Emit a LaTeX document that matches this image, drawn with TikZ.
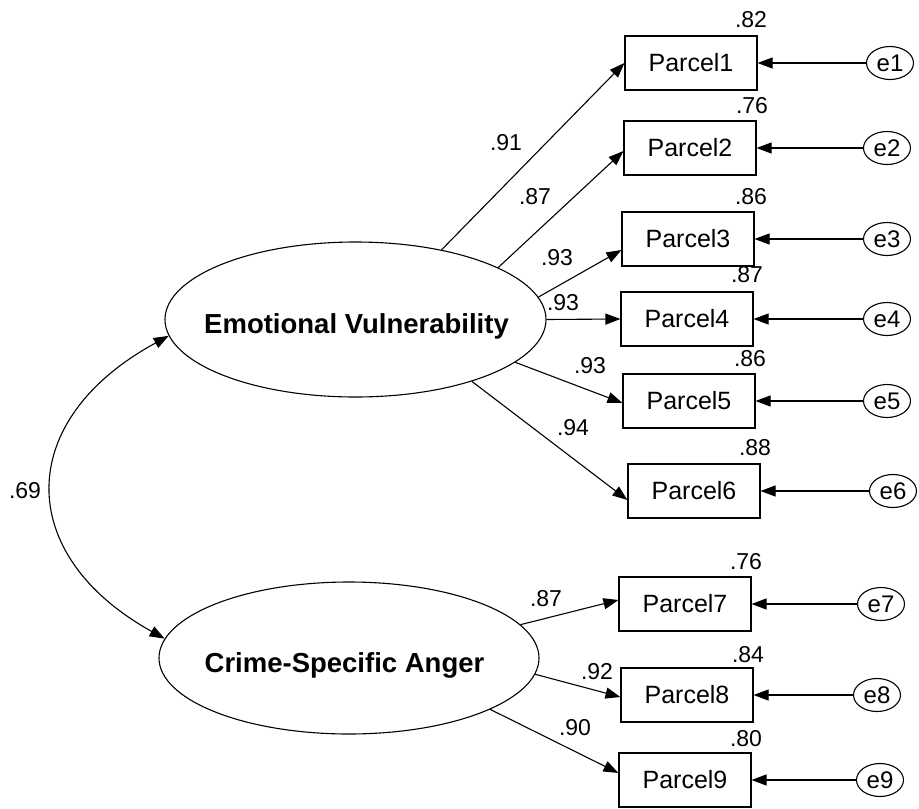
\documentclass[tikz,border=0pt]{standalone}
\usepackage{fontspec}
\setmainfont{Liberation Sans}
\usetikzlibrary{shapes.geometric,arrows.meta,calc}
\begin{document}
\begin{tikzpicture}[x=1pt,y=-1pt,line width=1.1pt,
  latent/.style={draw, ellipse, minimum width=381pt, minimum height=155pt, inner sep=0pt},
  lattext/.style={font=\fontsize{27.5}{33}\selectfont\bfseries, anchor=base, inner sep=0pt},
  obs/.style={draw, rectangle, minimum width=132pt, minimum height=54pt, inner sep=0pt, font=\fontsize{25}{30}\selectfont},
  err/.style={draw, ellipse, minimum width=47pt, minimum height=33pt, inner sep=0pt, font=\fontsize{24}{28}\selectfont},
  num/.style={font=\fontsize{23}{28}\selectfont, inner sep=0pt},
  tip/.style={Triangle[length=15pt,width=11pt]},
  arr/.style={-{Triangle[length=15pt,width=11pt]}},
  dbl/.style={{Triangle[length=15pt,width=11pt]}-{Triangle[length=15pt,width=11pt]}},
]
\useasboundingbox (0,0) rectangle (919,809);

% latent variables
\node[latent] (EV) at (355.5,319.5) {};
\node[lattext] (EVt) at ($(EV)+(1,13.5)$) {Emotional Vulnerability};
\node[latent, minimum width=380pt, minimum height=152pt] (CSA) at (349,658) {};
\node[lattext] (CSAt) at ($(CSA)+(-4.5,14)$) {Crime-Specific Anger};

% observed variables
\node[obs] (P1) at (691,63) {Parcel1};
\node[obs] (P2) at (690,148) {Parcel2};
\node[obs] (P3) at (688,239) {Parcel3};
\node[obs] (P4) at (687,319) {Parcel4};
\node[obs] (P5) at (689,401) {Parcel5};
\node[obs] (P6) at (694,491) {Parcel6};
\node[obs] (P7) at (685,604) {Parcel7};
\node[obs] (P8) at (687,695) {Parcel8};
\node[obs] (P9) at (685,780) {Parcel9};

% error terms
\node[err] (e1) at (890,63) {e1};
\node[err] (e2) at (887,148) {e2};
\node[err] (e3) at (887,239) {e3};
\node[err] (e4) at (887,319) {e4};
\node[err] (e5) at (887,401) {e5};
\node[err] (e6) at (893,491) {e6};
\node[err] (e7) at (881,604) {e7};
\node[err] (e8) at (877,695) {e8};
\node[err] (e9) at (880,780) {e9};

% error arrows
\foreach \i in {1,...,9} {
  \draw[arr] (e\i) -- (P\i);
}

% loadings
\draw[arr] (EV.39.6) -- (P1.west);
\draw[arr] (EV.20) -- ($(P2.west)+(0,3)$);
\draw[arr] (EV.7.6) -- ($(P3.west)+(0,11)$);
\draw[arr] (EV.0) -- (P4.west);
\draw[arr] (EV.345) -- ($(P5.west)+(0,2)$);
\draw[arr] (EV.332.8) -- ($(P6.west)+(0,9)$);
\draw[arr] (CSA.11.6) -- ($(P7.west)+(0,-4)$);
\draw[arr] (CSA.355.4) -- ($(P8.west)+(0,2)$);
\draw[arr] (CSA.340.7) -- ($(P9.west)+(0,-7)$);

% correlation
\draw[dbl] (EV.185.3) .. controls (14,420) and (14,555) .. (CSA.174.4);
\node[num] (r0) at (25,491) {.69};

% loading labels
\node[num] (l1) at (506,143) {.91};
\node[num] (l2) at (535,197) {.87};
\node[num] (l3) at (557,258) {.93};
\node[num] (l4) at (563,303) {.93};
\node[num] (l5) at (590,366) {.93};
\node[num] (l6) at (573,428) {.94};
\node[num] (l7) at (546,599) {.87};
\node[num] (l8) at (597,672) {.92};
\node[num] (l9) at (575,728) {.90};

% R-squared labels
\node[num] (s1) at (751,20) {.82};
\node[num] (s2) at (752,106) {.76};
\node[num] (s3) at (751,197) {.86};
\node[num] (s4) at (747,275) {.87};
\node[num] (s5) at (750,359) {.86};
\node[num] (s6) at (755,448) {.88};
\node[num] (s7) at (746,562) {.76};
\node[num] (s8) at (748,655) {.84};
\node[num] (s9) at (746,739) {.80};
\end{tikzpicture}
\end{document}
